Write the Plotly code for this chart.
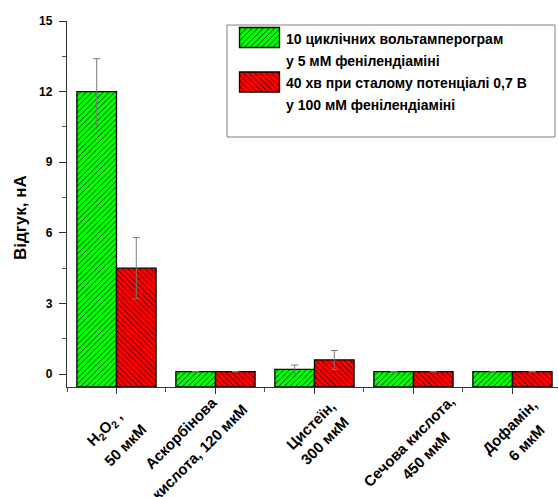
import plotly.graph_objects as go

# ---- data -------------------------------------------------------------
label_line1 = ["H<sub>2</sub>O<sub>2</sub> ,", "Аскорбінова", "Цистеїн,",
               "Сечова кислота,", "Дофамін,"]
label_line2 = ["50 мкМ", "кислота, 120 мкМ", "300 мкМ", "450 мкМ", "6 мкМ"]

cv_name = "10 циклічних вольтамперограм<br>у 5 мМ фенілендіаміні"
pot_name = "40 хв при сталому потенціалі 0,7 В<br>у 100 мМ фенілендіаміні"

cv_values = [12.0, 0.1, 0.2, 0.1, 0.1]
cv_errors = [1.4, None, 0.18, None, None]
pot_values = [4.5, 0.1, 0.6, 0.1, 0.1]
pot_errors = [1.3, None, 0.4, None, None]

y_ticks = [0, 3, 6, 9, 12, 15]

# ---- styling ----------------------------------------------------------
FONT = "Liberation Sans, Arial, sans-serif"
GREEN = "#00ff00"
RED = "#ff0000"
ERR = "#7a7a7a"
Y_MIN, Y_MAX = -0.55, 15
X_MIN, X_MAX = -0.5, 4.46

# page-pixel frame
L, T, W, H = 67, 21, 558, 497
B = 387
PW, PH = 558 - L, B - T

HATCH = dict(size=4, solidity=0.18, fgcolor="black", fillmode="replace")

x_idx = list(range(len(cv_values)))


def px_x(p):
    return (p - L) / PW


def px_y(p):
    return (B - p) / PH


def bar_trace(values, errors, color, shape, name):
    return go.Bar(
        x=x_idx,
        y=[v - Y_MIN for v in values],
        base=Y_MIN,
        name=name,
        showlegend=False,
        marker=dict(
            color=color,
            line=dict(color="black", width=1.3),
            pattern=dict(shape=shape, bgcolor=color, **HATCH),
        ),
        error_y=dict(type="data", array=errors, visible=True,
                     color=ERR, thickness=1, width=3.5),
    )


def swatch(top, color, shape):
    # legend key drawn on the pixel overlay axes
    return go.Bar(
        x=[259.5], base=[top], y=[20], width=40, offsetgroup="key",
        xaxis="x2", yaxis="y2", showlegend=False, hoverinfo="skip",
        marker=dict(
            color=color,
            line=dict(color="black", width=1.3),
            pattern=dict(shape=shape, bgcolor=color, **HATCH),
        ),
    )


fig = go.Figure()
fig.add_trace(bar_trace(cv_values, cv_errors, GREEN, "/", cv_name))
fig.add_trace(bar_trace(pot_values, pot_errors, RED, "\\", pot_name))
fig.add_trace(swatch(27.5, GREEN, "/"))
fig.add_trace(swatch(72, RED, "\\"))

annotations = []
# legend texts
for i, txt in enumerate(cv_name.split("<br>") + pot_name.split("<br>")):
    annotations.append(dict(
        x=px_x(284), y=px_y(39 + 22 * i), xref="paper", yref="paper",
        text=txt, showarrow=False, xanchor="left", yanchor="middle",
        font=dict(family=FONT, size=14, color="black", weight="bold"),
    ))

# rotated two-line category labels (per-line centre offsets, px)
line_offsets = [
    ((-11, 429), (8, 445)),
    ((-34, 433), (-16, 451)),
    ((-3, 425), (10, 440)),
    ((-5, 441), (12, 455)),
    ((-3, 426), (14, 442)),
]
for i in x_idx:
    for txt, (dx, py) in zip((label_line1[i], label_line2[i]), line_offsets[i]):
        annotations.append(dict(
            x=i, xref="x", xshift=dx, y=px_y(py), yref="paper", text=txt,
            showarrow=False, textangle=-45, xanchor="center",
            yanchor="middle",
            font=dict(family=FONT, size=15, color="black", weight="bold"),
        ))

# y-axis title
annotations.append(dict(
    x=px_x(20), y=px_y(218), xref="paper", yref="paper", text="Відгук, нА",
    showarrow=False, textangle=-90, xanchor="center", yanchor="middle",
    font=dict(family=FONT, size=17, color="black", weight="bold"),
))

fig.update_layout(
    width=W, height=H,
    margin=dict(l=L, r=W - 558, t=T, b=H - B, pad=0),
    paper_bgcolor="white", plot_bgcolor="white",
    barmode="group", bargap=0.2, bargroupgap=0,
    font=dict(family=FONT, color="black"),
    annotations=annotations,
    shapes=[dict(type="rect", xref="paper", yref="paper",
                 x0=px_x(227), x1=px_x(555), y0=px_y(25), y1=px_y(137),
                 line=dict(color="#808080", width=1),
                 fillcolor="rgba(0,0,0,0)", layer="below")],
    xaxis=dict(
        range=[X_MIN, X_MAX], tickvals=x_idx, ticktext=[""] * len(x_idx),
        showline=True, linecolor="#333", linewidth=1.3,
        ticks="outside", ticklen=6, tickwidth=1.3, tickcolor="#333",
        minor=dict(tick0=0.5, dtick=1, ticks="outside", ticklen=4,
                   tickwidth=1, tickcolor="#555"),
        showgrid=False, zeroline=False, fixedrange=True,
    ),
    yaxis=dict(
        range=[Y_MIN, Y_MAX], tickvals=y_ticks,
        ticktext=[str(v) for v in y_ticks],
        showline=True, linecolor="#333", linewidth=1.3,
        ticks="outside", ticklen=7, tickwidth=1.3, tickcolor="#333",
        minor=dict(dtick=1.5, tick0=0, ticks="outside", ticklen=4,
                   tickwidth=1, tickcolor="#555"),
        tickfont=dict(family=FONT, size=12, color="black", weight="bold"),
        ticklabelstandoff=4,
        showgrid=False, zeroline=False, fixedrange=True,
    ),
    xaxis2=dict(range=[L, 558], overlaying="x", visible=False,
                fixedrange=True),
    yaxis2=dict(range=[B, T], overlaying="y", visible=False,
                fixedrange=True),
)

fig.write_html("out.html", config={"displayModeBar": False})
